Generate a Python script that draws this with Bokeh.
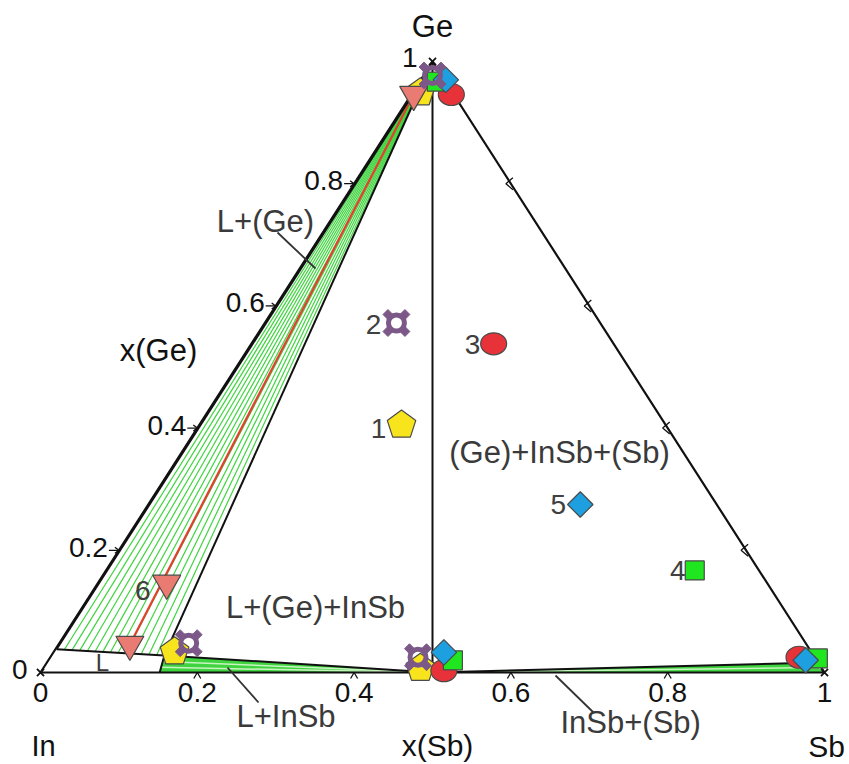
import numpy as np
from bokeh.plotting import figure
from bokeh.models import Range1d, Label
from bokeh.embed import file_html
from bokeh.resources import INLINE

# ---------------- data: mole fractions (x(Sb), x(Ge)) ----------------
tick_values = [0.2, 0.4, 0.6, 0.8]
tick_labels = ["0.2", "0.4", "0.6", "0.8"]

liq_A = [0.0015, 0.038]    # liquid on In-Ge side
liq_B = [0.144, 0.028]     # liquid of L+(Ge)+InSb
liq_C = [0.152, 0.0]       # liquid on In-Sb side
ge_ss = [0.002, 0.984]     # (Ge) solid solution
insb = [0.5, 0.0]          # InSb
sb_ss = [0.975, 0.016]     # (Sb) solid solution

sample_ids = ["1", "2", "3", "4", "5", "6"]
sample_xsb = [0.258, 0.168, 0.309, 0.751, 0.551, 0.088]
sample_xge = [0.405, 0.572, 0.538, 0.167, 0.275, 0.146]

s1_phase_xsb = [0.154, 0.481, 0.010]
s1_phase_xge = [0.034, 0.007, 0.949]
s2_phase_xsb = [0.165, 0.469, 0.0115]
s2_phase_xge = [0.048, 0.025, 0.977]
s3_phase_xsb = [0.513, 0.051, 0.955]
s3_phase_xge = [0.003, 0.946, 0.025]
s4_phase_xsb = [0.516, 0.022, 0.980]
s4_phase_xge = [0.020, 0.967, 0.023]
s5_phase_xsb = [0.498, 0.032, 0.966]
s5_phase_xge = [0.033, 0.970, 0.020]
s6_phase_xsb = [0.091, 0.003]
s6_phase_xge = [0.046, 0.946]

# ---------------- layout ----------------
W, H = 848, 763
PAGE = 0                        # page offset of the canvas
PX, PY = 784.0, 611.0           # pixels per unit along x / y
OX, OY = 40.0, 672.0            # page pixel of the In corner

FONT = "Liberation Sans"


def cart(xsb, xge):
    xsb = np.asarray(xsb, dtype=float)
    xge = np.asarray(xge, dtype=float)
    return xsb + xge / 2.0, xge


def pix(X, Y):
    return (X - OX) / PX, (OY - Y) / PY


p = figure(width=W, height=H, output_backend="svg", toolbar_location=None,
           x_axis_location=None, y_axis_location=None, min_border=0,
           x_range=Range1d(-(OX - PAGE) / PX, -(OX - PAGE) / PX + W / PX),
           y_range=Range1d(-(PAGE + H - OY) / PY, (OY - PAGE) / PY))
p.grid.visible = False
p.outline_line_color = None
p.background_fill_color = "white"
p.border_fill_color = "white"

GREEN = "#3fd43f"
PALE = "#c9f3c0"
BLACK = "#111111"

# ---- L+(Ge) fan of tie lines ----
A = np.array(cart(*liq_A))
B = np.array(cart(*liq_B))
C = np.array(cart(*liq_C))
G = np.array(cart(*ge_ss))
I = np.array(cart(*insb))
S = np.array(cart(*sb_ss))
SB = np.array(cart(1.0, 0.0))

xs, ys = [], []
for t in np.linspace(0, 1, 15)[1:-1]:
    P = A + t * (B - A)
    xs.append([P[0], G[0]])
    ys.append([P[1], G[1]])
p.multi_line(xs, ys, line_color=GREEN, line_width=1.2)

# ---- L+InSb band ----
p.patch([B[0], C[0], I[0]], [B[1], C[1], I[1]], fill_color=GREEN, line_color=None)
xs, ys = [], []
for t in [0.35, 0.7]:
    P = B + t * (C - B)
    xs.append([P[0], I[0]])
    ys.append([P[1], I[1]])
p.multi_line(xs, ys, line_color=PALE, line_width=1.5)

# ---- InSb+(Sb) band ----
p.patch([I[0], S[0], SB[0]], [I[1], S[1], SB[1]], fill_color=GREEN, line_color=None)
P = S + 0.5 * (SB - S)
p.line([I[0], P[0]], [I[1], P[1]], line_color=PALE, line_width=1.5)

# ---- red tie line of sample 6 ----
tx, ty = cart(s6_phase_xsb, s6_phase_xge)
p.line(tx, ty, line_color="#e2412f", line_width=2.2)

# ---- phase boundaries & triangle ----
seg = [(A, G), (B, G), (A, B), (B, C), (B, I), (I, S)]
p.multi_line([[a[0], b[0]] for a, b in seg], [[a[1], b[1]] for a, b in seg],
             line_color=BLACK, line_width=2)
vx, vy = cart([0.5, 0.0], [0.0, 1.0])
p.line(vx, vy, line_color=BLACK, line_width=2)
trx, try_ = cart([0, 1, 0, 0], [0, 0, 1, 0])
p.line(trx, try_, line_color=BLACK, line_width=2.2)

# ---- ticks ----
tk_x, tk_y = [], []
for t in tick_values:
    bx, by = cart(t, 0.0)
    tk_x.append([bx - 3.5 / PX, bx, bx + 3.5 / PX]); tk_y.append([by - 6 / PY, by, by - 6 / PY])
    lx, ly = cart(0.0, t)
    tk_x.append([lx - 10 / PX, lx]); tk_y.append([ly, ly])
    tk_x.append([lx - 4 / PX, lx, lx - 4 / PX]); tk_y.append([ly + 3 / PY, ly, ly - 3 / PY])
    rx, ry = cart(1 - t, t)
    tk_x.append([rx + 2 / PX, rx - 5 / PX, rx + 2 / PX]); tk_y.append([ry + 6 / PY, ry, ry - 6 / PY])
p.multi_line(tk_x, tk_y, line_color=BLACK, line_width=1.3)
cx_, cy_ = cart([0, 1, 0], [0, 0, 1])
p.scatter(cx_, cy_, marker="x", size=10, line_color=BLACK, line_width=1.8)

# ---- markers ----
OUT = "#4a4a4a"
# sample 1: yellow pentagons
px1, py1 = cart([sample_xsb[0]] + s1_phase_xsb, [sample_xge[0]] + s1_phase_xge)
ang = np.deg2rad(90 + 72 * np.arange(5))
pxs = [list(x + 15 * np.cos(ang) / PX) for x in px1]
pys = [list(y + 15 * np.sin(ang) / PY) for y in py1]
p.patches(pxs, pys, fill_color="#f8e41c", line_color=OUT, line_width=1.2)
# sample 3: red ellipses
px3, py3 = cart([sample_xsb[2]] + s3_phase_xsb, [sample_xge[2]] + s3_phase_xge)
p.ellipse(px3, py3, width=26, height=22, width_units="screen", height_units="screen",
          fill_color="#e8323a", line_color=OUT, line_width=1.2)
# sample 4: green squares
px4, py4 = cart([sample_xsb[3]] + s4_phase_xsb, [sample_xge[3]] + s4_phase_xge)
p.scatter(px4, py4, marker="square", size=19, fill_color="#1fe61f", line_color=OUT, line_width=1.2)
# sample 5: blue diamonds
px5, py5 = cart([sample_xsb[4]] + s5_phase_xsb, [sample_xge[4]] + s5_phase_xge)
p.scatter(px5, py5, marker="square", size=18, angle=np.pi / 4, fill_color="#1d9fe0",
          line_color=OUT, line_width=1.2)
# sample 6: salmon inverted triangles
px6, py6 = cart([sample_xsb[5]] + s6_phase_xsb, [sample_xge[5]] + s6_phase_xge)
p.scatter(px6, py6, marker="inverted_triangle", size=28, fill_color="#e97b72",
          line_color=OUT, line_width=1.2)
# sample 2: purple rings with knobs
px2, py2 = cart([sample_xsb[1]] + s2_phase_xsb, [sample_xge[1]] + s2_phase_xge)
PUR = "#7b5888"
kx, ky = [], []
for x, y in zip(px2, py2):
    for sx in (-1, 1):
        for sy in (-1, 1):
            kx.append(x + sx * 8.5 / PX)
            ky.append(y + sy * 8.5 / PY)
p.scatter(kx, ky, marker="square", size=7, angle=np.pi / 4, fill_color=PUR, line_color=PUR)
p.scatter(px2, py2, marker="circle", size=16, fill_alpha=0, line_color=PUR, line_width=5)


# ---------------- texts ----------------
def lab(x, y, text, size=28, color="#111111", align="center", dx=0, dy=0):
    p.add_layout(Label(x=float(x), y=float(y), text=text, text_align=align,
                       text_baseline="middle", x_offset=dx, y_offset=dy, text_font=FONT,
                       text_font_size=f"{size}px", text_color=color))


# corner / axis names
lab(*cart(0, 0), "In", size=29, dx=3, dy=-73)
lab(*cart(1, 0), "Sb", size=30, dx=2, dy=-74)
lab(*cart(0, 1), "Ge", size=31, dy=35)
lab(*cart(0.5, 0), "x(Sb)", size=30, dx=5, dy=-73)
lab(*pix(158, 350), "x(Ge)", size=31)

# bottom tick labels
lab(*cart(0, 0), "0", dy=-20)
lab(*cart(1, 0), "1", dy=-20)
for t, s in zip(tick_values, tick_labels):
    lab(*cart(t, 0), s, dy=-20)
# left tick labels
lab(*cart(0, 0), "0", align="right", dx=-13, dy=3)
lab(*cart(0, 1), "1", align="right", dx=-15, dy=4)
for t, s in zip(tick_values, tick_labels):
    lab(*cart(0, t), s, align="right", dx=-11, dy=3)

# phase fields
PH = "#3a3a3a"
lab(*pix(265, 221), "L+(Ge)", size=31, color=PH)
lab(*pix(315, 607), "L+(Ge)+InSb", size=31, color=PH)
lab(*pix(102, 662), "L", size=24, color=PH)
lab(*pix(236, 716), "L+InSb", size=31, color=PH, align="left")
lab(*pix(560, 722), "InSb+(Sb)", size=31, color=PH, align="left")
lab(*pix(559, 452), "(Ge)+InSb+(Sb)", size=31, color=PH)
lead = [((277, 232), (315, 268)), ((227, 667), (258, 702)), ((555, 675), (593, 712))]
p.multi_line([[pix(*a)[0], pix(*b)[0]] for a, b in lead],
             [[pix(*a)[1], pix(*b)[1]] for a, b in lead], line_color="#333333", line_width=1.8)

# sample numbers
num_dx = [-23, -23, -21, -17, -22, -24]
num_dy = [-3, -1, -1, 0, 0, -7]
for i, sid in enumerate(sample_ids):
    x, y = cart(sample_xsb[i], sample_xge[i])
    lab(x, y, sid, color="#404040", dx=num_dx[i], dy=num_dy[i])

open("out.html", "w").write(file_html(p, INLINE))
